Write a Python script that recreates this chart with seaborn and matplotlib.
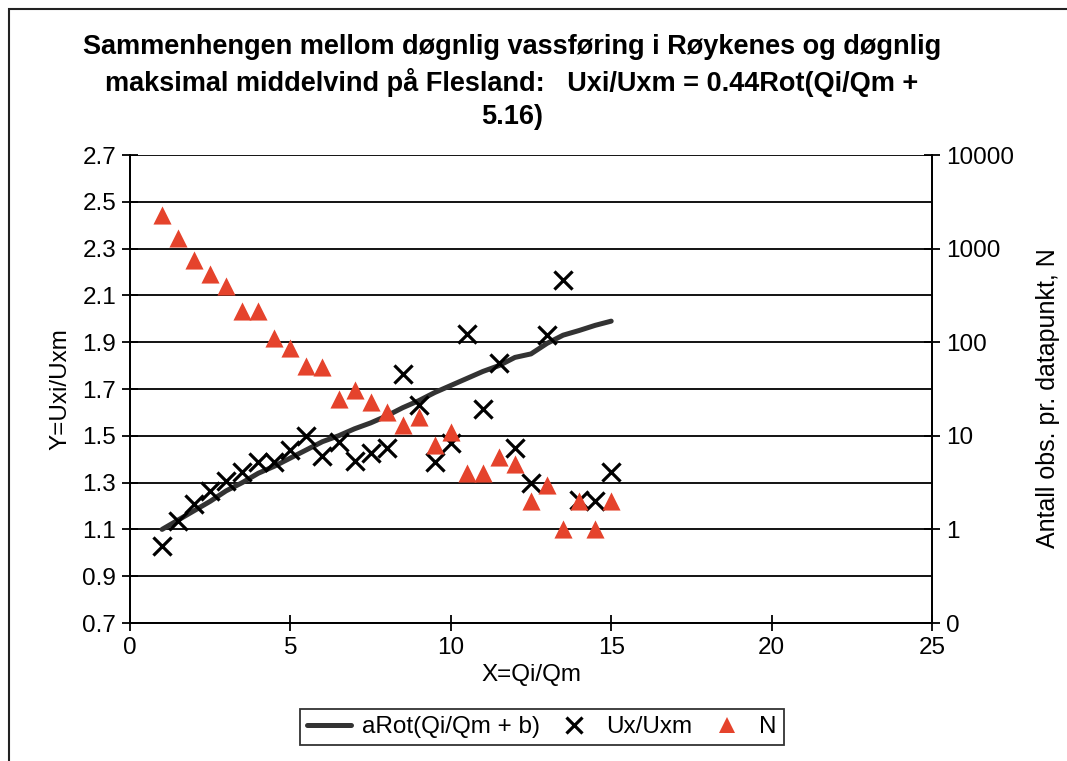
import matplotlib
matplotlib.use("Agg")
import matplotlib.pyplot as plt
import seaborn as sns
import numpy as np
import pandas as pd
from matplotlib.lines import Line2D
from matplotlib.patches import Rectangle

# ---- data ----
x_vals = [1, 1.5, 2, 2.5, 3, 3.5, 4, 4.5, 5, 5.5, 6, 6.5, 7, 7.5, 8,
          8.5, 9, 9.5, 10, 10.5, 11, 11.5, 12, 12.5, 13, 13.5, 14, 14.5, 15]
curve_vals = [1.10, 1.14, 1.18, 1.22, 1.265, 1.30, 1.34, 1.37, 1.405, 1.44, 1.475,
              1.50, 1.53, 1.555, 1.585, 1.62, 1.65, 1.685, 1.715, 1.745, 1.775,
              1.80, 1.835, 1.85, 1.895, 1.93, 1.95, 1.972, 1.99]
ux_vals = [1.03, 1.135, 1.21, 1.262, 1.305, 1.347, 1.39, 1.39, 1.44, 1.50, 1.413,
           1.475, 1.394, 1.425, 1.45, 1.766, 1.631, 1.39, 1.468, 1.937, 1.613,
           1.809, 1.45, 1.297, 1.93, 2.164, 1.226, 1.222, 1.344]
n_vals = [2300, 1300, 750, 540, 400, 215, 215, 110, 87, 56, 55, 25, 31, 23, 18,
          13, 16, 8, 11, 4, 4, 6, 5, 2, 3, 1, 2, 1, 2]

title = ("Sammenhengen mellom døgnlig vassføring i Røykenes og døgnlig\n"
         "maksimal middelvind på Flesland:   Uxi/Uxm = 0.44Rot(Qi/Qm +\n5.16)")
left_ticks = [0.7, 0.9, 1.1, 1.3, 1.5, 1.7, 1.9, 2.1, 2.3, 2.5, 2.7]
x_ticks = [0, 5, 10, 15, 20, 25]
right_ticks = [0.1, 1, 10, 100, 1000, 10000]
right_labels = ["0", "1", "10", "100", "1000", "10000"]
legend_labels = ["aRot(Qi/Qm + b)", "Ux/Uxm", "N"]

df = pd.DataFrame({"x": x_vals, "curve": curve_vals, "ux": ux_vals, "n": n_vals})

sns.set_theme(style="white")
plt.rcParams["font.family"] = ["Liberation Sans", "DejaVu Sans"]
plt.rcParams["text.color"] = "black"
plt.rcParams["axes.labelcolor"] = "black"
plt.rcParams["xtick.color"] = "black"
plt.rcParams["ytick.color"] = "black"

fig = plt.figure(figsize=(10.67, 7.61), dpi=100)
ax = fig.add_axes([130/1067, 1-623/761, (932-130)/1067, (623-155)/761])
ax2 = ax.twinx()

red = "#e5432c"
dark = "#333333"
fs = 17.5

sns.lineplot(data=df, x="x", y="curve", ax=ax, color=dark, lw=3.6, zorder=4, legend=False)
sns.scatterplot(data=df, x="x", y="ux", ax=ax, marker="x", color="black", s=170,
                linewidth=2.3, zorder=5, legend=False)
sns.scatterplot(data=df, x="x", y="n", ax=ax2, marker="^", color=red, s=170,
                linewidth=0, zorder=5, legend=False)

ax.set_xlim(0, 25)
ax.set_ylim(0.7, 2.7)
ax.set_xticks(x_ticks)
ax.set_yticks(left_ticks)
ax.set_yticklabels([f"{v:.1f}" for v in left_ticks])
ax.grid(axis="y", color="black", lw=1.3)
ax.grid(axis="x", visible=False)
ax.set_axisbelow(True)

ax2.set_yscale("log")
ax2.set_ylim(0.1, 10000)
ax2.set_yticks(right_ticks)
ax2.set_yticklabels(right_labels)
ax2.yaxis.set_minor_locator(matplotlib.ticker.NullLocator())
ax2.grid(False)

for a in (ax, ax2):
    for s in a.spines.values():
        s.set_color("black")
        s.set_linewidth(1.3)
ax.spines["top"].set_visible(False)
ax2.spines["top"].set_visible(False)

ax.tick_params(axis="both", direction="inout", length=12, width=1.3, labelsize=fs,
               colors="black", left=True, bottom=True, pad=4)
ax2.tick_params(axis="y", direction="inout", length=12, width=1.3, labelsize=fs,
                colors="black", right=True, pad=4)

ax.set_xlabel("X=Qi/Qm", fontsize=fs, labelpad=4, color="black")
ax.set_ylabel("Y=Uxi/Uxm", fontsize=fs, labelpad=8, color="black")
ax2.set_ylabel("Antall obs. pr. datapunkt, N", fontsize=18, labelpad=12, color="black")
ax2.yaxis.set_label_coords(1.13, 0.48)

fig.text(512/1067, 1-82/761, title, ha="center", va="center", fontsize=19.5,
         fontweight="bold", linespacing=1.35, color="black")

handles = [Line2D([], [], color=dark, lw=3.6),
           Line2D([], [], marker="x", color="black", ls="none", ms=12, mew=2.3),
           Line2D([], [], marker="^", color=red, ls="none", ms=12, mew=0)]
leg = fig.legend(handles, legend_labels, loc="center", bbox_to_anchor=(542/1067, 1-727/761),
                 ncol=3, frameon=True, fancybox=False, edgecolor="black", fontsize=fs,
                 handlelength=1.8, columnspacing=0.5, handletextpad=0.45,
                 borderpad=0.3, borderaxespad=0)
leg.get_frame().set_linewidth(1.3)
for t in leg.get_texts():
    t.set_color("black")

fig.patches.append(Rectangle((9/1067, -0.05), 1.2, 1-9/761+0.05, transform=fig.transFigure,
                             fill=False, edgecolor="#222222", lw=1.5))

fig.savefig("out.png", dpi=100)
